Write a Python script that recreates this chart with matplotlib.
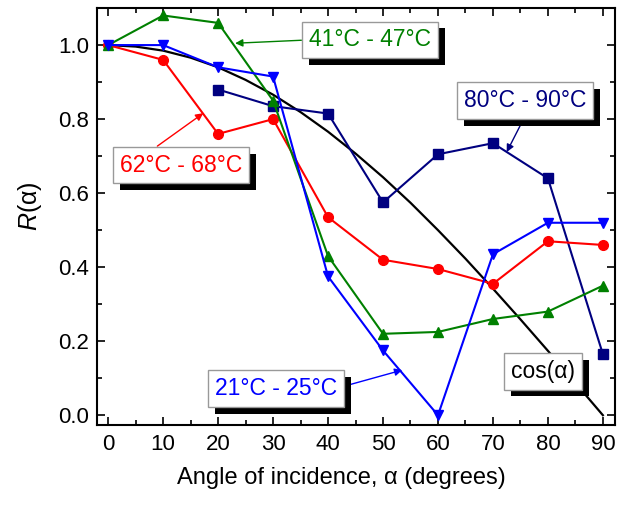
import matplotlib
matplotlib.use('Agg')
import matplotlib.pyplot as plt
from matplotlib import patheffects as pe

plt.rcParams['font.family'] = ['Liberation Sans', 'DejaVu Sans']
plt.rcParams['mathtext.fontset'] = 'custom'
plt.rcParams['mathtext.rm'] = 'Liberation Sans'
plt.rcParams['mathtext.it'] = 'Liberation Sans:italic'

# data
angles = [0, 10, 20, 30, 40, 50, 60, 70, 80, 90]
r_21_25 = [1.0, 1.0, 0.94, 0.915, 0.375, 0.175, 0.0, 0.435, 0.52, 0.52]
r_41_47 = [1.0, 1.08, 1.06, 0.85, 0.43, 0.22, 0.225, 0.26, 0.28, 0.35]
r_62_68 = [1.0, 0.96, 0.76, 0.80, 0.535, 0.42, 0.395, 0.355, 0.47, 0.46]
angles_80 = [20, 30, 40, 50, 60, 70, 80, 90]
r_80_90 = [0.88, 0.835, 0.815, 0.575, 0.705, 0.735, 0.64, 0.165]
cos_angles = [0, 5, 10, 15, 20, 25, 30, 35, 40, 45, 50, 55, 60, 65, 70, 75, 80, 85, 90]
cos_values = [1.0, 0.996, 0.985, 0.966, 0.940, 0.906, 0.866, 0.819, 0.766, 0.707,
              0.643, 0.574, 0.5, 0.423, 0.342, 0.259, 0.174, 0.087, 0.0]

navy = '#000080'; green = '#008000'; red = '#ff0000'; blue = '#0000ff'

fig = plt.figure(figsize=(6.19, 5.05), dpi=100)
ax = fig.add_axes([0.157, 0.158, 0.8365, 0.826])

ax.plot(cos_angles, cos_values, color='black', lw=1.6, zorder=2)
ax.plot(angles_80, r_80_90, color=navy, marker='s', ms=6.5, lw=1.5, zorder=3)
ax.plot(angles, r_62_68, color=red, marker='o', ms=7, lw=1.5, zorder=3)
ax.plot(angles, r_41_47, color=green, marker='^', ms=7.5, lw=1.5, zorder=3)
ax.plot(angles, r_21_25, color=blue, marker='v', ms=7.5, lw=1.5, zorder=4)

ax.set_xlim(-2, 92.2)
ax.set_ylim(-0.027, 1.1)
ax.set_xticks(range(0, 91, 10))
ax.set_xticks(range(5, 91, 10), minor=True)
ax.set_yticks([0.0, 0.2, 0.4, 0.6, 0.8, 1.0])
ax.set_yticks([0.1, 0.3, 0.5, 0.7, 0.9], minor=True)
ax.set_yticklabels(['0.0', '0.2', '0.4', '0.6', '0.8', '1.0'])
ax.tick_params(which='both', direction='in', top=True, right=True, labelsize=16, width=1.2, pad=6)
ax.tick_params(which='major', length=6)
ax.tick_params(which='minor', length=3.5)
for s in ax.spines.values():
    s.set_linewidth(1.5)

ax.set_xlabel('Angle of incidence, α (degrees)', fontsize=17, labelpad=9)
ax.set_ylabel('$R$(α)', fontsize=18, labelpad=10)
ax.xaxis.label.set_x(0.471)
ax.yaxis.label.set_y(0.525)

shadow = [pe.withSimplePatchShadow(offset=(5, -5), shadow_rgbFace='black', alpha=1.0)]

def label(text, color, xytext, xy=None, relpos=(0.5, 0.5)):
    kw = {}
    if xy is not None:
        kw['arrowprops'] = dict(arrowstyle='-|>', color=color, lw=1.0, mutation_scale=11,
                                relpos=relpos, shrinkA=0, shrinkB=0)
    else:
        xy = xytext
    t = ax.annotate(text, xy=xy, xytext=xytext, color=color, fontsize=16.5,
                    ha='center', va='center', zorder=6,
                    bbox=dict(boxstyle='square,pad=0.3', fc='white', ec='#999999', lw=1.0), **kw)
    t.get_bbox_patch().set_path_effects(shadow)
    return t

label('41°C - 47°C', green, (47.6, 1.014), (23.1, 1.005), relpos=(0, 0.5))
label('62°C - 68°C', red, (13.3, 0.676), (17.3, 0.816), relpos=(0.22, 1))
label('80°C - 90°C', navy, (75.8, 0.851), (72.5, 0.711), relpos=(0.52, 0))
label('21°C - 25°C', blue, (30.5, 0.073), (53.5, 0.122), relpos=(1, 0.5))
label('cos(α)', 'black', (79.1, 0.119))

fig.savefig('out.png', dpi=100)
plt.close(fig)
